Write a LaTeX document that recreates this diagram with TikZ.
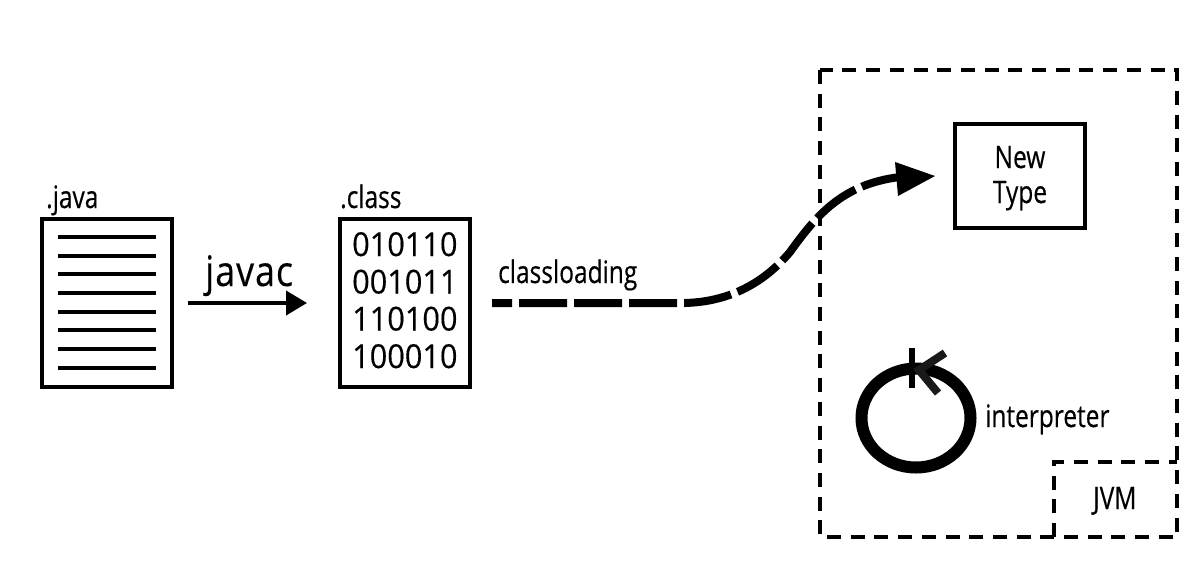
\documentclass[tikz,border=0pt]{standalone}
\usepackage{fontspec}
\setmainfont{Open Sans}[FakeStretch=0.79,FakeBold=0.35]
\newfontfamily\digitfont{Open Sans}[FakeStretch=0.93,FakeBold=0.3]
\newfontfamily\javacfont{Open Sans}[FakeStretch=0.85,FakeBold=0.3,LetterSpace=2.5]
\usetikzlibrary{arrows.meta}
\tikzset{
  x=1pt,y=-1pt,
  box/.style={draw=black,line width=3.6pt,fill=white,rectangle,inner sep=0pt,outer sep=0pt,minimum width=130pt,anchor=north west},
  txt/.style={inner sep=0pt,anchor=base west,text=black},
  rule/.style={line width=4pt,black},
  jvmline/.style={line width=4pt,black,dash pattern=on 14pt off 9.7pt},
  thick arrow/.style={line width=4pt,-{Triangle[length=21pt,width=24pt]}},
  loadline/.style={line width=8pt,black,dash pattern=on 48pt off 7pt,dash phase=28pt},
}
\begin{document}
\begin{tikzpicture}
\useasboundingbox (0,0) rectangle (1200,566);
% boxes
\node[box,minimum height=168pt] (java) at (42,219) {};
\node[box,minimum height=168pt] (class) at (340,219) {};
\node[box,minimum width=130pt,minimum height=104pt] (newtype) at (955,124) {};
% java lines
\foreach \i/\y in {1/236.7,2/255.5,3/274.3,4/293,5/311.7,6/330.4,7/349.2,8/368}{
  \coordinate (l\i) at (58,\y); \coordinate (r\i) at (156,\y);
  \draw[rule] (l\i) -- (r\i);
}
% labels
\node[txt,font=\fontsize{31}{31}\selectfont] (javalabel) at (46,208) {.java};
\node[txt,font=\fontsize{31}{31}\selectfont] (classlabel) at (340,208) {.class};
\node[txt,font=\javacfont\fontsize{42}{42}\selectfont] (javaclabel) at (205,286) {javac};
\node[txt,font=\fontsize{31}{31}\selectfont] (cllabel) at (498,283) {classloading};
\foreach \n/\t/\y in {a/010110/256,b/001011/293.5,c/110100/330.5,d/100010/368}{
  \node[txt,font=\digitfont\fontsize{33}{33}\selectfont] (bin\n) at (352,\y) {\t};
}
\node[txt,font=\fontsize{31}{31}\selectfont,anchor=base] (newlabel) at (1020,168) {New};
\node[txt,font=\fontsize{31}{31}\selectfont,anchor=base] (typelabel) at (1020,203) {Type};
\node[txt,font=\fontsize{31}{31}\selectfont] (interp) at (985,427) {interpreter};
\node[txt,font=\fontsize{31}{31}\selectfont] (jvmlabel) at (1093,509) {JVM};
% javac arrow
\coordinate (ja) at (188,303); \coordinate (jb) at (307,303);
\draw[thick arrow] (ja) -- (jb);
% dashed JVM box
\coordinate (o1) at (820,70); \coordinate (o2) at (1177,537);
\draw[jvmline] (o1) rectangle (o2);
\coordinate (v1) at (1054,537); \coordinate (v2) at (1054,462); \coordinate (v3) at (1177,462);
\draw[jvmline] (v1) -- (v2) -- (v3);
% classloading curve
\coordinate (c0) at (492,303); \coordinate (c1) at (685,303);
\coordinate (c2) at (790,252); \coordinate (c3) at (900,177);
\coordinate (tip) at (935,176); \coordinate (hu) at (895,162); \coordinate (hd) at (898,196);
\draw[loadline] (c0) -- (c1) .. controls (720,302) and (758,290) .. (c2)
  .. controls (816,216) and (842,184) .. (c3);
\fill[black] (tip) -- (hu) -- (hd) -- cycle;
% interpreter loop
\coordinate (loop) at (916,418);
\draw[black,line width=12pt] (loop) ellipse [x radius=54.5pt,y radius=49.5pt];
\coordinate (t1) at (912,348); \coordinate (t2) at (912,388);
\draw[black,line width=6.5pt] (t1) -- (t2);
\coordinate (a1) at (945,353); \coordinate (a2) at (919,370); \coordinate (a3) at (938,393);
\draw[black!90,line width=8pt,miter limit=4] (a1) -- (a2) -- (a3);
\end{tikzpicture}
\end{document}
